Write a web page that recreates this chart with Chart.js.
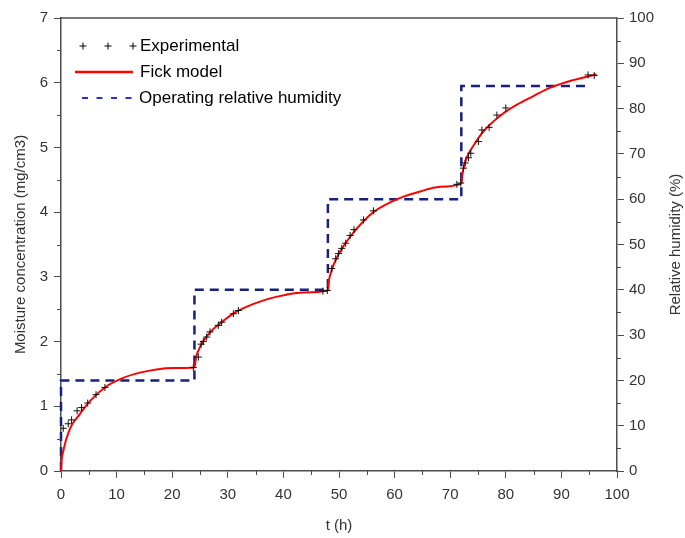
<!DOCTYPE html>
<html>
<head>
<meta charset="utf-8">
<script src="https://cdn.jsdelivr.net/npm/chart.js@4.4.0/dist/chart.umd.min.js"></script>
<style>
  html, body { margin: 0; padding: 0; background: #fff; }
  #wrap { width: 685px; height: 538px; }
</style>
</head>
<body>
<div id="wrap"><canvas id="myChart" width="685" height="538"></canvas></div>
<script>
// experimental sorption points (t in h, moisture in mg/cm3)
const expTime = [0.4, 1.3, 1.9, 2.9, 3.7, 4.8, 6.3, 7.9,
    23.8, 24.7, 25.2, 25.6, 26.2, 26.8, 28.3, 28.9, 31.0, 31.9,
    47.1, 47.9, 48.7, 49.4, 49.9, 50.5, 51.2, 52.0, 52.7, 54.4, 56.2,
    71.2, 71.9, 72.4, 72.7, 73.3, 73.7, 75.1, 75.7, 77.0, 78.4, 80.0,
    94.8, 95.9];
const expMoisture = [0.66, 0.73, 0.79, 0.93, 0.98, 1.05, 1.18, 1.29,
    1.60, 1.76, 1.96, 2.00, 2.07, 2.15, 2.25, 2.30, 2.43, 2.48,
    2.78, 2.79, 3.13, 3.28, 3.36, 3.44, 3.52, 3.64, 3.73, 3.88, 4.02,
    4.43, 4.45, 4.68, 4.76, 4.84, 4.91, 5.09, 5.27, 5.31, 5.50, 5.61,
    6.12, 6.11];

// Fick model curve
const modelTime = [0, 0.1, 0.4, 1.6, 3.4, 5.2, 8.2, 11.2, 14.2, 17.2, 20.2, 24,
    24.3, 24.7, 25.6, 27.1, 28.9, 31.3, 34.3, 37.3, 40.3, 43.5, 48,
    48.2, 48.5, 49.0, 50.2, 52.0, 54.4, 56.2, 59.2, 61.6, 64.6, 68, 72,
    72.2, 72.4, 73.0, 74.2, 76.0, 79.0, 82.0, 84.9, 87.9, 92.1, 96.3];
const modelMoisture = [0, 0.15, 0.31, 0.65, 0.88, 1.08, 1.31, 1.44, 1.52, 1.57, 1.59, 1.60,
    1.76, 1.86, 2.01, 2.17, 2.30, 2.45, 2.57, 2.66, 2.72, 2.76, 2.79,
    2.95, 3.05, 3.18, 3.39, 3.62, 3.86, 4.00, 4.15, 4.24, 4.32, 4.39, 4.44,
    4.58, 4.68, 4.85, 5.03, 5.25, 5.49, 5.66, 5.79, 5.92, 6.04, 6.13];

// operating relative humidity steps (%)
const rhTime = [0, 0, 24, 24, 48, 48, 72, 72, 95];
const rhValue = [0, 20, 20, 40, 40, 60, 60, 85, 85];

const leftTicks = [0, 1, 2, 3, 4, 5, 6, 7];
const rightTicks = [0, 10, 20, 30, 40, 50, 60, 70, 80, 90, 100];
const timeTicks = [0, 10, 20, 30, 40, 50, 60, 70, 80, 90, 100];

const FONT = "'Liberation Sans', Arial, sans-serif";
const AXIS = '#4d4d4d';
const TEXT = '#333333';
const NAVY = '#16207f';

const toPoints = (xs, ys) => xs.map((x, i) => ({ x: x, y: ys[i] }));

// axis frame, minor ticks, right title and the legend box
const extras = {
    id: 'extras',
    afterDraw(chart) {
        const c = chart.ctx;
        const a = chart.chartArea;
        const sx = chart.scales.x, sy = chart.scales.y, sr = chart.scales.y2;
        c.save();
        c.strokeStyle = AXIS;
        c.lineWidth = 1.5;
        c.beginPath();
        c.moveTo(a.left, a.top);
        c.lineTo(a.right, a.top);
        c.stroke();

        c.lineWidth = 1;
        c.beginPath();
        for (let v = 5; v < 100; v += 10) {
            const px = Math.round(sx.getPixelForValue(v)) + 0.5;
            c.moveTo(px, a.bottom);
            c.lineTo(px, a.bottom + 4);
        }
        for (let v = 0.5; v < 7; v += 1) {
            const py = Math.round(sy.getPixelForValue(v)) + 0.5;
            c.moveTo(a.left, py);
            c.lineTo(a.left - 4, py);
        }
        for (let v = 5; v < 100; v += 10) {
            const py = Math.round(sr.getPixelForValue(v)) + 0.5;
            c.moveTo(a.right, py);
            c.lineTo(a.right + 4, py);
        }
        c.stroke();

        // right axis title, reading upwards
        c.fillStyle = TEXT;
        c.font = '15px ' + FONT;
        c.textAlign = 'center';
        c.textBaseline = 'middle';
        c.translate(676, (a.top + a.bottom) / 2);
        c.rotate(-Math.PI / 2);
        c.fillText('Relative humidity (%)', 0, 0);
        c.restore();

        // legend
        c.save();
        c.font = '17px ' + FONT;
        c.fillStyle = '#000';
        c.textAlign = 'left';
        c.textBaseline = 'middle';
        const rows = [46, 72, 98];
        c.strokeStyle = '#000';
        c.lineWidth = 1;
        c.beginPath();
        [83, 108, 133].forEach(x => {
            c.moveTo(x - 3.5, rows[0]); c.lineTo(x + 3.5, rows[0]);
            c.moveTo(x, rows[0] - 3.5); c.lineTo(x, rows[0] + 3.5);
        });
        c.stroke();
        c.fillText('Experimental', 140, rows[0]);

        c.strokeStyle = '#ff0000';
        c.lineWidth = 2.5;
        c.beginPath();
        c.moveTo(75, rows[1]); c.lineTo(133, rows[1]);
        c.stroke();
        c.fillText('Fick model', 140, rows[1]);

        c.strokeStyle = '#2233dd';
        c.lineWidth = 2;
        c.setLineDash([6, 8.5]);
        c.beginPath();
        c.moveTo(82, rows[2]); c.lineTo(133, rows[2]);
        c.stroke();
        c.setLineDash([]);
        c.fillText('Operating relative humidity', 139, rows[2]);
        c.restore();
    }
};

const ctx = document.getElementById('myChart').getContext('2d');
const chart = new Chart(ctx, {
    type: 'scatter',
    data: {
        datasets: [{
            label: 'Experimental',
            data: toPoints(expTime, expMoisture),
            yAxisID: 'y',
            pointStyle: 'cross',
            pointRadius: 3.5,
            pointBorderWidth: 1,
            borderColor: '#111',
            backgroundColor: '#111',
            showLine: false
        }, {
            label: 'Fick model',
            data: toPoints(modelTime, modelMoisture),
            yAxisID: 'y',
            showLine: true,
            borderColor: '#ff0000',
            borderWidth: 2,
            pointRadius: 0,
            cubicInterpolationMode: 'monotone',
            clip: false
        }, {
            label: 'Operating relative humidity',
            data: toPoints(rhTime, rhValue),
            yAxisID: 'y2',
            showLine: true,
            borderColor: NAVY,
            borderWidth: 2.5,
            borderDash: [9, 6],
            pointRadius: 0,
            clip: false
        }]
    },
    options: {
        responsive: false,
        animation: false,
        layout: { padding: { top: 18, left: 0, right: 0, bottom: 0 } },
        plugins: {
            legend: { display: false },
            tooltip: { enabled: false }
        },
        scales: {
            x: {
                type: 'linear',
                position: 'bottom',
                min: 0,
                max: 100,
                afterBuildTicks: s => { s.ticks = timeTicks.map(v => ({ value: v })); },
                afterFit: s => { s.height = 67; },
                ticks: { color: TEXT, font: { family: FONT, size: 15 }, padding: 8 },
                grid: { drawOnChartArea: false, tickLength: 7, color: AXIS, tickWidth: 1 },
                border: { color: AXIS, width: 1.5 },
                title: {
                    display: true, text: 't (h)', color: TEXT,
                    font: { family: FONT, size: 15 }, padding: { top: 0, bottom: 3 }
                }
            },
            y: {
                type: 'linear',
                position: 'left',
                min: 0,
                max: 7,
                afterBuildTicks: s => { s.ticks = leftTicks.map(v => ({ value: v })); },
                afterFit: s => { s.width = 61; },
                ticks: { color: TEXT, font: { family: FONT, size: 15 }, padding: 6 },
                grid: { drawOnChartArea: false, tickLength: 7, color: AXIS, tickWidth: 1 },
                border: { color: AXIS, width: 1.5 },
                title: {
                    display: true, text: 'Moisture concentration (mg/cm3)', color: TEXT,
                    font: { family: FONT, size: 15 }, padding: { top: 12, bottom: 0 }
                }
            },
            y2: {
                type: 'linear',
                position: 'right',
                min: 0,
                max: 100,
                afterBuildTicks: s => { s.ticks = rightTicks.map(v => ({ value: v })); },
                afterFit: s => { s.width = 68; },
                ticks: { color: TEXT, font: { family: FONT, size: 15 }, padding: 5 },
                grid: { drawOnChartArea: false, tickLength: 7, color: AXIS, tickWidth: 1 },
                border: { color: AXIS, width: 1.5 }
            }
        }
    },
    plugins: [extras]
});
</script>
</body>
</html>
